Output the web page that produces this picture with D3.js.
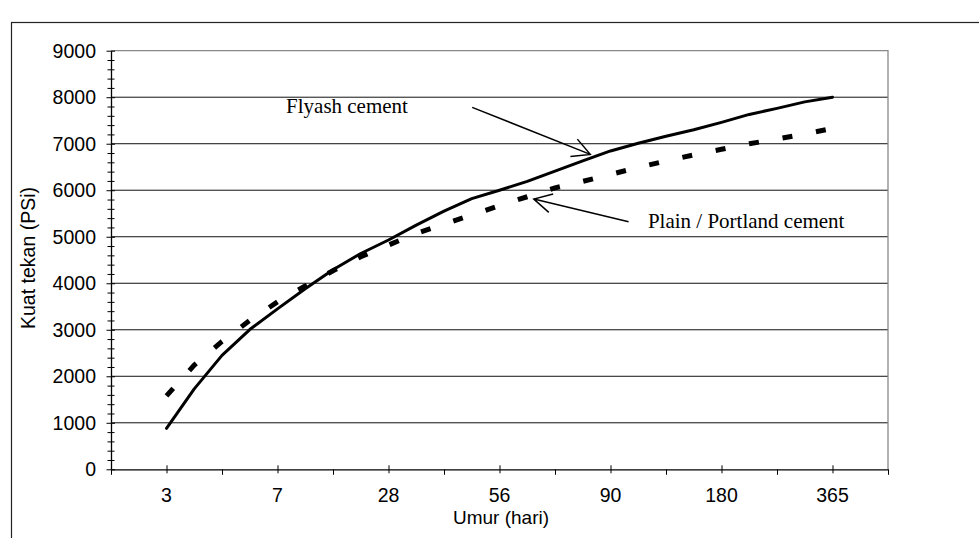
<!DOCTYPE html>
<html>
<head>
<meta charset="utf-8">
<script src="https://cdn.jsdelivr.net/npm/d3@7"></script>
<style>
  body { margin: 0; background: #fff; }
  svg { display: block; }
</style>
</head>
<body>
<div id="chart"></div>
<script>
// Category labels on the x axis (umur, hari)
let ageLabels = ["3", "7", "28", "56", "90", "180", "365"];

// Positions along the category axis where values were read (0 = "3", 6 = "365")
let positions = [0, 0.25, 0.5, 0.75, 1, 1.25, 1.5, 1.75, 2, 2.25, 2.5, 2.75, 3,
	3.25, 3.5, 3.75, 4, 4.25, 4.5, 4.75, 5, 5.25, 5.5, 5.75, 6];

// Kuat tekan (PSi)
let flyash = [880, 1730, 2450, 3005, 3450, 3880, 4290, 4640, 4930, 5250, 5550, 5820, 6000,
	6190, 6410, 6630, 6845, 7010, 7160, 7300, 7460, 7630, 7760, 7900, 8000];
let plain = [1580, 2240, 2750, 3200, 3600, 3940, 4270, 4570, 4820, 5070, 5270, 5470, 5670,
	5860, 6050, 6190, 6340, 6490, 6630, 6760, 6880, 7000, 7100, 7210, 7330];

let yTicks = [0, 1000, 2000, 3000, 4000, 5000, 6000, 7000, 8000, 9000];

// annotation text and arrow ends, in data units [position, value]
let notes = [
	{label: "Flyash cement", text: [1.077, 7653], from: [2.754, 7782], to: [3.818, 6771]},
	{label: "Plain / Portland cement", text: [4.337, 5180], from: [4.163, 5322], to: [3.309, 5810]}
];

let W = 979, H = 538;
let plotLeft = 111, plotRight = 888, plotTop = 50.7, plotBottom = 469.3;

let svg = d3.select("#chart").append("svg")
	.attr("width", W)
	.attr("height", H);

// outer frame (goes past the right and bottom edge)
svg.append("rect")
	.attr("x", 11.5).attr("y", 22.5)
	.attr("width", 1000).attr("height", 600)
	.attr("fill", "none")
	.attr("stroke", "#222")
	.attr("stroke-width", 1.2);

let x = d3.scaleLinear().domain([-0.5, 6.5]).range([plotLeft, plotRight]);
let y = d3.scaleLinear().domain([0, 9000]).range([plotBottom, plotTop]);

// gridlines
svg.append("g")
	.selectAll("line")
	.data(yTicks.slice(1, -1))
	.join("line")
	.attr("x1", plotLeft).attr("x2", plotRight)
	.attr("y1", d => y(d)).attr("y2", d => y(d))
	.attr("stroke", "#111")
	.attr("stroke-width", 1);

// plot area border on top and right
svg.append("path")
	.attr("d", "M" + plotLeft + "," + y(9000) + "H" + plotRight + "V" + plotBottom)
	.attr("fill", "none")
	.attr("stroke", "#888")
	.attr("stroke-width", 1.3);

// y axis
let yAxis = svg.append("g")
	.attr("transform", "translate(" + plotLeft + ",0)")
	.call(d3.axisLeft(y).tickValues(d3.range(0, 9001, 200)).tickSize(0).tickFormat(""));
yAxis.select(".domain").attr("stroke", "#000").attr("stroke-width", 1.3);
yAxis.selectAll(".tick line")
	.attr("x1", d => d % 1000 === 0 ? -4.5 : -3.5)
	.attr("x2", d => d % 1000 === 0 ? 4 : 3.5)
	.attr("stroke", "#000")
	.attr("stroke-width", 1);

svg.append("g")
	.selectAll("text")
	.data(yTicks)
	.join("text")
	.attr("x", 96)
	.attr("y", d => y(d) + 6.8)
	.attr("text-anchor", "end")
	.attr("font-family", "Liberation Sans, Arial, sans-serif")
	.attr("font-size", 19.5)
	.text(d => d);

// x axis
let xAxis = svg.append("g")
	.attr("transform", "translate(0," + plotBottom + ")")
	.call(d3.axisBottom(x).tickValues(d3.range(-0.5, 6.51, 0.5)).tickSize(0).tickFormat(""));
xAxis.select(".domain").attr("stroke", "#000").attr("stroke-width", 1.3);
xAxis.selectAll(".tick line")
	.attr("y1", d => Number.isInteger(d) ? -4 : 0)
	.attr("y2", d => Number.isInteger(d) ? 4 : 5.5)
	.attr("stroke", "#000")
	.attr("stroke-width", 1);

svg.append("g")
	.selectAll("text")
	.data(ageLabels)
	.join("text")
	.attr("x", (d, i) => x(i))
	.attr("y", 502)
	.attr("text-anchor", "middle")
	.attr("font-family", "Liberation Sans, Arial, sans-serif")
	.attr("font-size", 19.5)
	.text(d => d);

// axis titles
svg.append("text")
	.attr("x", 501)
	.attr("y", 523.5)
	.attr("text-anchor", "middle")
	.attr("font-family", "Liberation Sans, Arial, sans-serif")
	.attr("font-size", 19)
	.text("Umur (hari)");

svg.append("text")
	.attr("transform", "translate(35,258) rotate(-90)")
	.attr("text-anchor", "middle")
	.attr("font-family", "Liberation Sans, Arial, sans-serif")
	.attr("font-size", 19.5)
	.text("Kuat tekan (PSi)");

// the two series
let line = d3.line()
	.x(function(d) { return x(d[0]) })
	.y(function(d) { return y(d[1]) });

svg.append("path")
	.datum(d3.zip(positions, plain))
	.attr("fill", "none")
	.attr("stroke", "#000")
	.attr("stroke-width", 5)
	.attr("stroke-dasharray", "10,24")
	.attr("d", line);

svg.append("path")
	.datum(d3.zip(positions, flyash))
	.attr("fill", "none")
	.attr("stroke", "#000")
	.attr("stroke-width", 3)
	.attr("stroke-linejoin", "round")
	.attr("stroke-linecap", "round")
	.attr("d", line);

// annotations with open arrow heads
notes.forEach(function(n) {
	let x1 = x(n.from[0]), y1 = y(n.from[1]);
	let x2 = x(n.to[0]), y2 = y(n.to[1]);
	let a = Math.atan2(y1 - y2, x1 - x2);
	let arm = 20, spread = 28 * Math.PI / 180;
	let p = "M" + x1 + "," + y1 + "L" + x2 + "," + y2
		+ "M" + (x2 + arm * Math.cos(a + spread)) + "," + (y2 + arm * Math.sin(a + spread))
		+ "L" + x2 + "," + y2
		+ "L" + (x2 + arm * Math.cos(a - spread)) + "," + (y2 + arm * Math.sin(a - spread));
	svg.append("path")
		.attr("d", p)
		.attr("fill", "none")
		.attr("stroke", "#000")
		.attr("stroke-width", 1.5);

	svg.append("text")
		.attr("x", x(n.text[0]))
		.attr("y", y(n.text[1]))
		.attr("font-family", "Liberation Serif, Times New Roman, serif")
		.attr("font-size", 21)
		.text(n.label);
});
</script>
</body>
</html>
